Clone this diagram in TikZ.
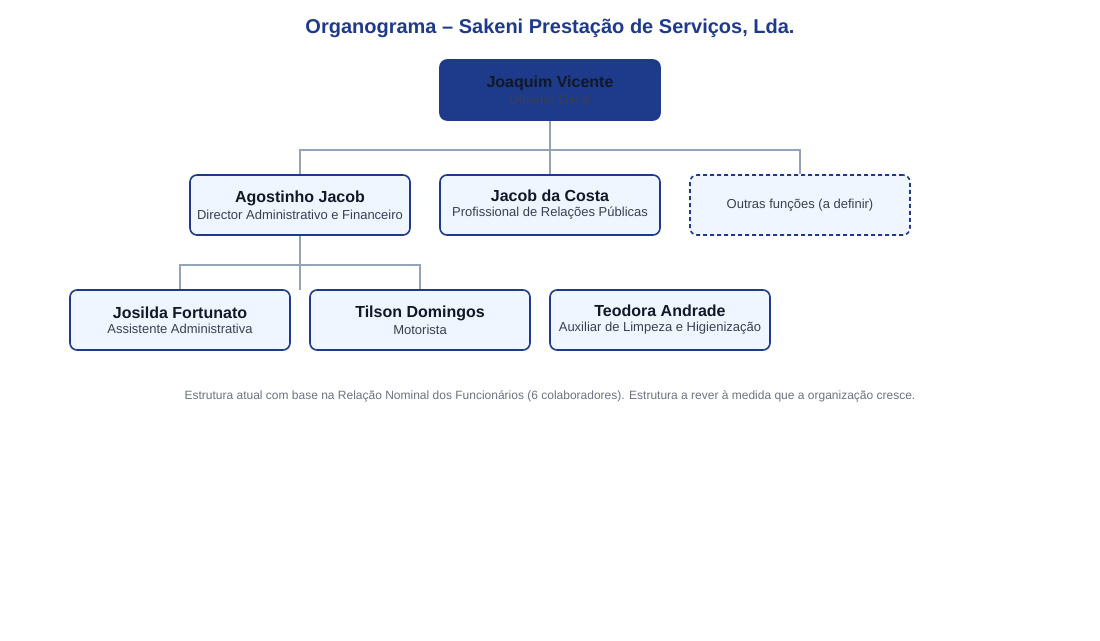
\documentclass[tikz,border=0pt]{standalone}
\usepackage{fontspec}
\setmainfont{Liberation Sans}
\definecolor{bd}{HTML}{1E3A8A}\definecolor{lt}{HTML}{EFF6FF}
\definecolor{tx}{HTML}{111827}\definecolor{sub}{HTML}{374151}
\definecolor{gl}{HTML}{94A3B8}\definecolor{nt}{HTML}{6B7280}
\newcommand{\myNm}[1]{{\bfseries\fontsize{16}{19}\selectfont\color{tx}#1}}
\newcommand{\mySb}[1]{{\fontsize{13}{16}\selectfont\color{sub}#1}}
\begin{document}
\begin{tikzpicture}[x=1pt,y=-1pt,
  box/.style={draw=bd,line width=1.6pt,fill=lt,rounded corners=7pt,minimum width=220pt,minimum height=60pt,align=center,inner sep=0pt},
  ln/.style={draw=gl,line width=1.5pt}]
\useasboundingbox (0,0) rectangle (1100,640);
\node[font=\bfseries\fontsize{20}{24}\selectfont,text=bd] (title) at (550,28) {Organograma – Sakeni Prestação de Serviços, Lda.};
\node[box,fill=bd] (jv) at (550,90) {\myNm{Joaquim Vicente}\\[3pt]\mySb{Director Geral}};
\node[box] (aj) at (300,205) {\myNm{Agostinho Jacob}\\[3pt]\mySb{Director Administrativo e Financeiro}};
\node[box] (jc) at (550,205) {\myNm{Jacob da Costa}\\[3pt]\mySb{Profissional de Relações Públicas}};
\node[box,dashed,dash pattern=on 4pt off 3pt] (of) at (800,205) {\mySb{Outras funções (a definir)}};
\node[box] (jf) at (180,320) {\myNm{Josilda Fortunato}\\[3pt]\mySb{Assistente Administrativa}};
\node[box] (td) at (420,320) {\myNm{Tilson Domingos}\\[3pt]\mySb{Motorista}};
\node[box] (ta) at (660,320) {\myNm{Teodora Andrade}\\[3pt]\mySb{Auxiliar de Limpeza e Higienização}};
\coordinate (h1) at (550,150);
\coordinate (h2) at (300,265);
\coordinate (e2) at (300,290);
\draw[ln] (jv.south) -- (h1);
\draw[ln] (aj.north) |- (h1) -| (of.north);
\draw[ln] (h1) -- (jc.north);
\draw[ln] (aj.south) -- (e2);
\draw[ln] (jf.north) |- (h2) -| (td.north);
\node[font=\fontsize{12}{14}\selectfont,text=nt] (note) at (550,396) {Estrutura atual com base na Relação Nominal dos Funcionários (6 colaboradores). Estrutura a rever à medida que a organização cresce.};
\end{tikzpicture}
\end{document}
